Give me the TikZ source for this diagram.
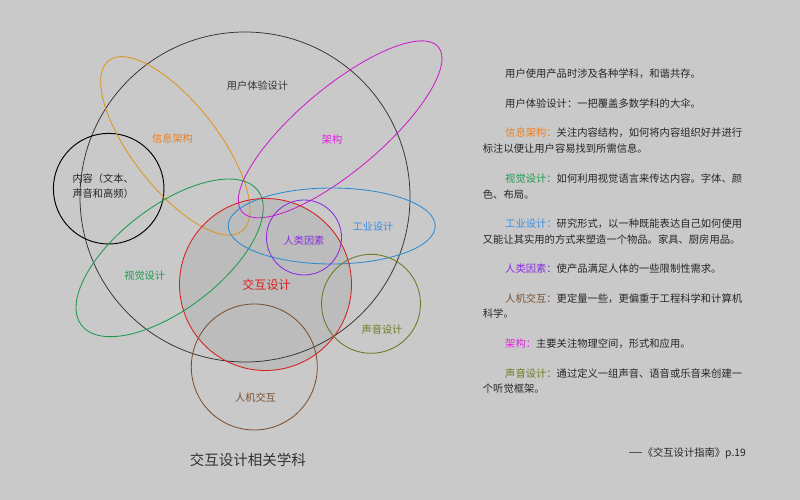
\documentclass[tikz,border=0pt]{standalone}
\usepackage{fontspec}
\setmainfont{Noto Sans CJK SC}
\definecolor{bgc}{HTML}{C9C9C9}
\definecolor{fillc}{HTML}{BCBCBC}
\definecolor{uxc}{HTML}{333333}
\definecolor{txtc}{HTML}{262626}
\definecolor{redc}{HTML}{D81E1E}
\definecolor{orangec}{HTML}{DC961E}
\definecolor{orangetxt}{HTML}{F07D1E}
\definecolor{magc}{HTML}{CC1FCC}
\definecolor{magtxt}{HTML}{E020E0}
\definecolor{greenc}{HTML}{1E9A50}
\definecolor{bluec}{HTML}{2A8CD4}
\definecolor{bluetxt}{HTML}{3A8EE6}
\definecolor{purplec}{HTML}{8A2BE2}
\definecolor{olivec}{HTML}{6A7A22}
\definecolor{brownc}{HTML}{7B5131}
\definecolor{dashc}{HTML}{555555}
\tikzset{
  shape line/.style={line width=0.85pt},
  lbl/.style={inner sep=0pt, font=\fontsize{10.2}{12}\selectfont},
  para/.style={inner sep=0pt, anchor=west, text=txtc, font=\fontsize{10.3}{12}\selectfont},
}
\begin{document}
\begin{tikzpicture}[x=1pt,y=1pt]
\useasboundingbox (0,0) rectangle (800,500);
\fill[bgc] (0,0) rectangle (800,500);
% filled interaction design circle
\fill[fillc] (265.5,215.5) circle[radius=86pt];
% outlines
\draw[shape line, uxc, line width=0.75pt] (245,303) circle[radius=165pt];
\draw[shape line, black, line width=0.95pt] (108.7,311.3) circle[radius=55.3pt];
\draw[shape line, orangec, rotate around={-52:(175.35,354.15)}] (175.35,354.15) ellipse[x radius=108.2pt, y radius=42.8pt];
\draw[shape line, magc, rotate around={40:(340.15,370.65)}] (340.15,370.65) ellipse[x radius=128.2pt, y radius=41.9pt];
\draw[shape line, greenc, rotate around={37.35:(169.65,242.15)}] (169.65,242.15) ellipse[x radius=111pt, y radius=51.5pt];
\draw[shape line, bluec] (331.7,274) ellipse[x radius=103.5pt, y radius=38pt];
\draw[shape line, redc] (265.5,215.5) circle[radius=86pt];
\draw[shape line, purplec] (304,262.5) circle[radius=37.5pt];
\draw[shape line, olivec] (371,196.2) circle[radius=49.5pt];
\draw[shape line, brownc] (254.3,133) circle[radius=63pt];
% labels
\node[lbl, text=uxc] (ux) at (257.5,414) {用户体验设计};
\node[lbl, text=orangetxt] (ia) at (172.5,361) {信息架构};
\node[lbl, text=magtxt] (arch) at (332,360) {架构};
\node[lbl, text=txtc, anchor=west] (cont1) at (72.3,321.3) {内容（文本、};
\node[lbl, text=txtc, anchor=west] (cont2) at (72.3,306.7) {声音和高频）};
\node[lbl, text=bluetxt] (ind) at (373,273.3) {工业设计};
\node[lbl, text=purplec] (hf) at (304,259.3) {人类因素};
\node[lbl, text=greenc] (vis) at (144.7,224.7) {视觉设计};
\node[inner sep=0pt, font=\fontsize{12.1}{14}\selectfont, text=redc] (ixd) at (266.5,215) {交互设计};
\node[lbl, text=olivec] (snd) at (382,170.7) {声音设计};
\node[lbl, text=brownc] (hci) at (255.5,102.3) {人机交互};
\node[inner sep=0pt, font=\fontsize{14.5}{17}\selectfont, text=uxc] (title) at (247.8,40) {交互设计相关学科};
% right column text
\node[para] (p1) at (505,426) {用户使用产品时涉及各种学科，和谐共存。};
\node[para] (p2) at (505,396.7) {用户体验设计：一把覆盖多数学科的大伞。};
\node[para] (p3a) at (505,367.3) {{\color{orangetxt}信息架构：}关注内容结构，如何将内容组织好并进行};
\node[para] (p3b) at (482.7,351.3) {标注以便让用户容易找到所需信息。};
\node[para] (p4a) at (505,321.7) {{\color{greenc}视觉设计：}如何利用视觉语言来传达内容。字体、颜};
\node[para] (p4b) at (482.7,305.7) {色、布局。};
\node[para] (p5a) at (505,276.7) {{\color{bluetxt}工业设计：}研究形式，以一种既能表达自己如何使用};
\node[para] (p5b) at (482.7,260) {又能让其实用的方式来塑造一个物品。家具、厨房用品。};
\node[para] (p6) at (505,231.7) {{\color{purplec}人类因素：}使产品满足人体的一些限制性需求。};
\node[para] (p7a) at (505,201) {{\color{brownc}人机交互：}更定量一些，更偏重于工程科学和计算机};
\node[para] (p7b) at (482.7,186) {科学。};
\node[para] (p8) at (505,156) {{\color{magtxt}架构：}主要关注物理空间，形式和应用。};
\node[para] (p9a) at (505,126) {{\color{olivec}声音设计：}通过定义一组声音、语音或乐音来创建一};
\node[para] (p9b) at (482.7,111) {个听觉框架。};
\node[para, anchor=east] (cite) at (746,46.7) {{\color{dashc}\rule[0.36em]{13pt}{0.6pt}}\hspace{1pt}《交互设计指南》p.19};
\end{tikzpicture}
\end{document}
